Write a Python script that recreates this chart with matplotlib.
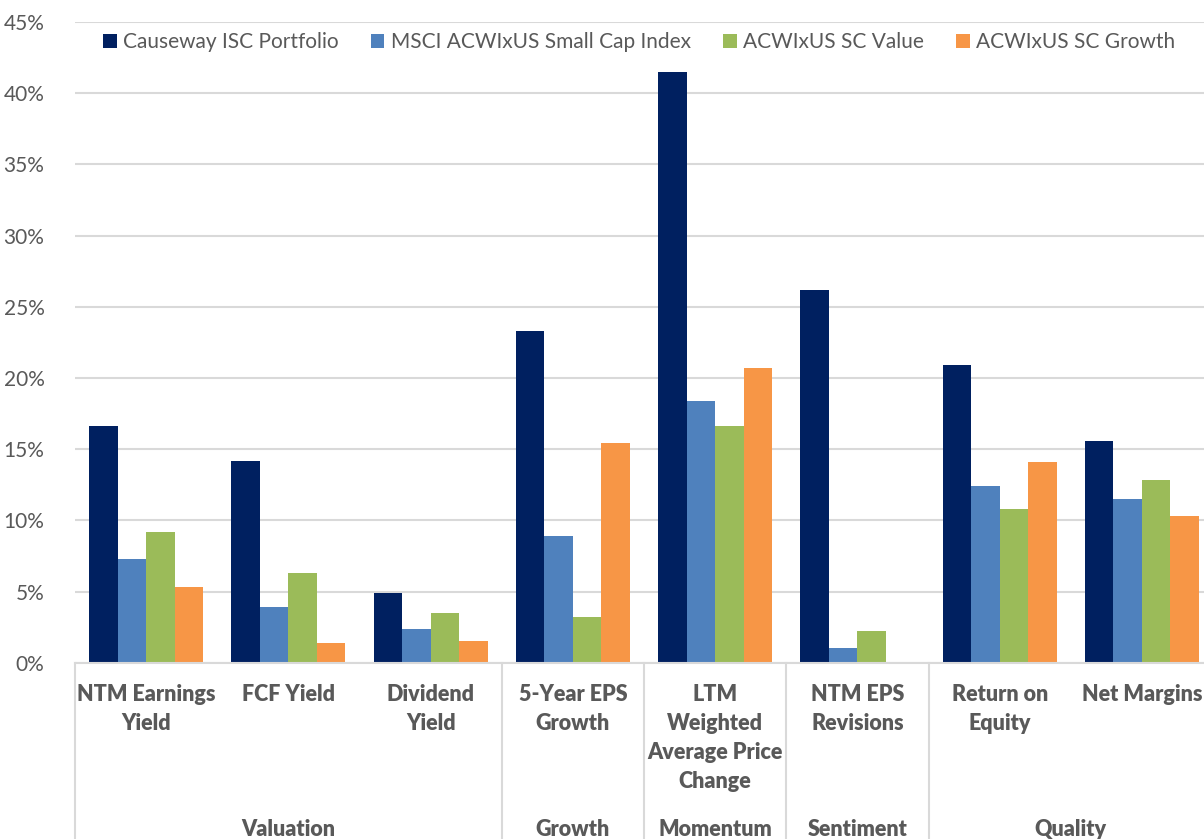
import numpy as np
import matplotlib
matplotlib.use('Agg')
import matplotlib.pyplot as plt
import matplotlib.transforms as mtransforms
from matplotlib.ticker import FuncFormatter

# Factor exposures (%)
categories = ['NTM Earnings\nYield', 'FCF Yield', 'Dividend\nYield', '5-Year EPS\nGrowth',
              'LTM\nWeighted\nAverage Price\nChange', 'NTM EPS\nRevisions', 'Return on\nEquity',
              'Net Margins']
groups = ['Valuation', 'Growth', 'Momentum', 'Sentiment', 'Quality']
group_sizes = [3, 1, 1, 1, 2]

series_names = ['Causeway ISC Portfolio', 'MSCI ACWIxUS Small Cap Index',
                'ACWIxUS SC Value', 'ACWIxUS SC Growth']
causeway = [16.6, 14.2, 4.9, 23.3, 41.5, 26.2, 20.9, 15.6]
msci_sc = [7.3, 3.9, 2.4, 8.9, 18.4, 1.0, 12.4, 11.5]
sc_value = [9.2, 6.3, 3.5, 3.2, 16.6, 2.2, 10.8, 12.8]
sc_growth = [5.3, 1.4, 1.5, 15.4, 20.7, 0.05, 14.1, 10.3]

colors = ['#002060', '#4F81BD', '#9BBB59', '#F79646']
txt_col = '#595959'
grid_col = '#d9d9d9'
font = 'Lato'

fig = plt.figure(figsize=(12.04, 8.39), dpi=100)
ax = fig.add_axes([75/1204, 176.3/839, 1138/1204, 640.7/839])

x = np.arange(len(categories))
w = 0.2
data = [causeway, msci_sc, sc_value, sc_growth]
for k, (vals, name, c) in enumerate(zip(data, series_names, colors)):
    ax.bar(x + (k - 1.5) * w, vals, width=w, color=c, label=name, zorder=3)

ax.set_xlim(-0.5, len(categories) - 0.5)
ax.set_ylim(0, 45)
ax.set_yticks(np.arange(0, 46, 5))
ax.yaxis.set_major_formatter(FuncFormatter(lambda v, p: '{:.0f}%'.format(v)))
ax.tick_params(axis='y', length=0, pad=22, labelsize=15, labelcolor=txt_col)
for lab in ax.get_yticklabels():
    lab.set_fontfamily(font)
ax.set_xticks([])
ax.grid(axis='y', color=grid_col, linewidth=1.5, zorder=0)
for s in ['top', 'right', 'left']:
    ax.spines[s].set_visible(False)
ax.spines['bottom'].set_color(grid_col)
ax.spines['bottom'].set_linewidth(1.5)
ax.spines['bottom'].set_zorder(4)

# two-level category axis
trans = mtransforms.blended_transform_factory(ax.transData, ax.transAxes)
px = 1 / 640.7
for i, lab in enumerate(categories):
    ax.text(i, -21 * px, lab, transform=trans, ha='center', va='top', fontsize=15.5,
            fontweight='heavy', color=txt_col, family=font, linespacing=1.47)

bounds = np.concatenate([[0], np.cumsum(group_sizes)]) - 0.5
for b in bounds:
    ax.plot([b, b], [0, -0.3], transform=trans, color=grid_col, linewidth=1.5, clip_on=False)
for g, lo, hi in zip(groups, bounds[:-1], bounds[1:]):
    ax.text((lo + hi) / 2, -167 * px, g, transform=trans, ha='center', va='center',
            fontsize=15.5, fontweight='heavy', color=txt_col, family=font)

leg = ax.legend(loc='upper left', bbox_to_anchor=(0.012, 1.007), ncol=4, frameon=False,
                handlelength=0.65, handleheight=0.65, handletextpad=0.3, columnspacing=1.55,
                prop={'family': font, 'size': 15}, borderaxespad=0.3)
for t in leg.get_texts():
    t.set_color(txt_col)

fig.savefig('out.png', dpi=100)
